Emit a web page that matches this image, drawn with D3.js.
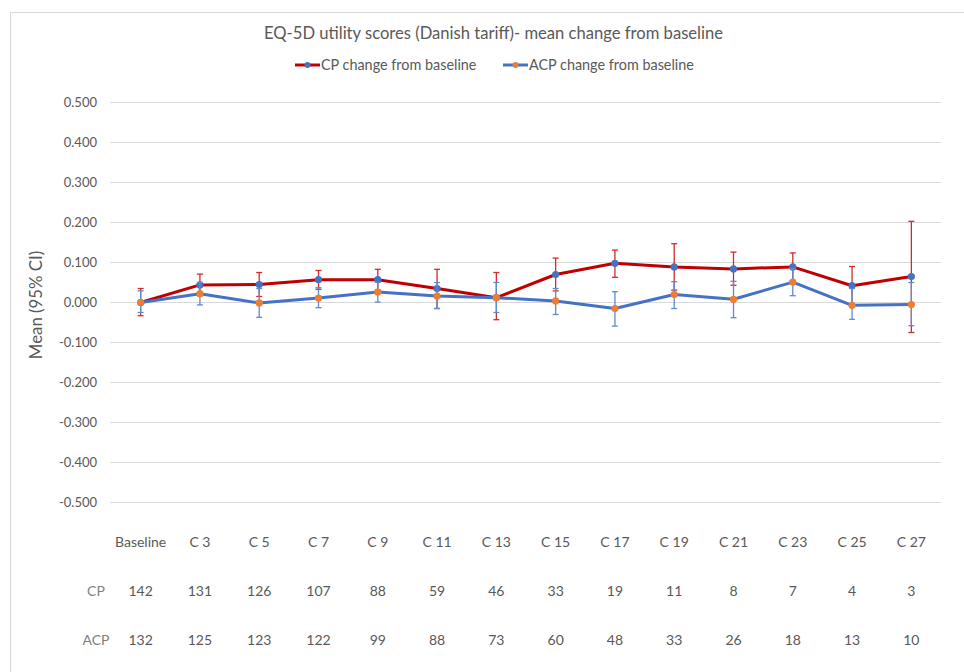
<!DOCTYPE html>
<html>
<head>
<meta charset="utf-8">
<script src="https://cdn.jsdelivr.net/npm/d3@7"></script>
<style>
  html, body { margin: 0; padding: 0; background: #fff; }
  svg { display: block; font-family: Lato, "Open Sans", sans-serif; }
</style>
</head>
<body>
<svg id="chart" width="964" height="672"></svg>
<script>
// Visits, in order
const categories = ["Baseline", "C 3", "C 5", "C 7", "C 9", "C 11", "C 13", "C 15", "C 17", "C 19", "C 21", "C 23", "C 25", "C 27"];

// CP: mean change from baseline and 95% CI
const cpMean  = [0.000, 0.044, 0.045, 0.057, 0.057, 0.035, 0.012, 0.070, 0.098, 0.089, 0.084, 0.089, 0.042, 0.065];
const cpLower = [-0.033, 0.017, 0.015, 0.033, 0.031, -0.015, -0.043, 0.029, 0.063, 0.031, 0.043, 0.054, -0.006, -0.075];
const cpUpper = [0.035, 0.071, 0.075, 0.080, 0.083, 0.083, 0.075, 0.111, 0.131, 0.147, 0.126, 0.124, 0.090, 0.203];

// ACP: mean change from baseline and 95% CI
const acpMean  = [0.000, 0.022, -0.001, 0.011, 0.026, 0.016, 0.012, 0.004, -0.015, 0.020, 0.008, 0.051, -0.007, -0.005];
const acpLower = [-0.025, -0.006, -0.037, -0.013, 0.001, -0.015, -0.025, -0.030, -0.059, -0.015, -0.038, 0.017, -0.042, -0.058];
const acpUpper = [0.029, 0.050, 0.035, 0.037, 0.051, 0.050, 0.050, 0.035, 0.027, 0.052, 0.053, 0.085, 0.035, 0.050];

// Number of patients at each visit
const cpN  = [142, 131, 126, 107, 88, 59, 46, 33, 19, 11, 8, 7, 4, 3];
const acpN = [132, 125, 123, 122, 99, 88, 73, 60, 48, 33, 26, 18, 13, 10];

// Value axis ticks
const yTicks = [0.5, 0.4, 0.3, 0.2, 0.1, 0, -0.1, -0.2, -0.3, -0.4, -0.5];

const titleText = "EQ-5D utility scores (Danish tariff)- mean change from baseline";
const yTitle = "Mean (95% CI)";

const series = [
  { name: "CP change from baseline", rowLabel: "CP", mean: cpMean, lower: cpLower, upper: cpUpper, n: cpN,
    line: "#c00000", marker: "#4472c4", err: "#d42a2a" },
  { name: "ACP change from baseline", rowLabel: "ACP", mean: acpMean, lower: acpLower, upper: acpUpper, n: acpN,
    line: "#4472c4", marker: "#ed7d31", err: "#5f8ad0" }
];

const textColor = "#595959";
const gridColor = "#d9d9d9";

const svg = d3.select("#chart");
svg.append("rect").attr("width", 964).attr("height", 672).attr("fill", "#fff");

// Chart area frame (left and top edges)
svg.append("path")
  .attr("d", "M10.5,672 V12.5 H964")
  .attr("fill", "none")
  .attr("stroke", gridColor)
  .attr("stroke-width", 1);

const x = d3.scaleBand().domain(categories).range([111, 941]).paddingInner(0).paddingOuter(0);
const cx = c => x(c) + x.bandwidth() / 2;
const y = d3.scaleLinear().domain([-0.5, 0.5]).range([502.5, 102.5]);

const fmt = d3.formatLocale({ decimal: ".", thousands: ",", grouping: [3], currency: ["", ""], minus: "-" }).format(".3f");

// Gridlines and value labels
const yAxis = d3.axisLeft(y).tickValues(yTicks).tickFormat(fmt).tickSize(0).tickPadding(0);
const yG = svg.append("g").attr("transform", "translate(97,0)").call(yAxis);
yG.select(".domain").remove();
yG.selectAll("text").attr("fill", textColor).attr("font-size", 13).attr("font-family", "Lato, sans-serif");

svg.append("g").selectAll("line").data(yTicks).join("line")
  .attr("x1", 110).attr("x2", 941)
  .attr("y1", d => y(d)).attr("y2", d => y(d))
  .attr("stroke", gridColor).attr("stroke-width", 1);

// Title
svg.append("text")
  .attr("x", 493.5).attr("y", 33).attr("dy", "0.35em")
  .attr("text-anchor", "middle").attr("font-size", 16.6).attr("fill", textColor)
  .text(titleText);

// Y axis title
svg.append("text")
  .attr("transform", "translate(36,305) rotate(-90)")
  .attr("dy", "0.35em").attr("text-anchor", "middle")
  .attr("font-size", 16.8).attr("fill", textColor)
  .text(yTitle);

// Legend
const legendX = [295, 503];
series.forEach((s, i) => {
  const g = svg.append("g").attr("transform", `translate(${legendX[i]},65)`);
  g.append("line").attr("x1", 0).attr("x2", 25).attr("y1", 0).attr("y2", 0)
    .attr("stroke", s.line).attr("stroke-width", 3);
  g.append("circle").attr("cx", 12.5).attr("cy", 0).attr("r", 3).attr("fill", s.marker);
  g.append("text").attr("x", 26).attr("dy", "0.35em").attr("font-size", 14.4)
    .attr("fill", textColor).text(s.name);
});

// Series: line, error bars, markers
const lineGen = d3.line().x((d, i) => cx(categories[i])).y(d => y(d));
const capHalf = 3;
series.forEach(s => {
  const g = svg.append("g");
  g.append("path").datum(s.mean)
    .attr("d", lineGen).attr("fill", "none")
    .attr("stroke", s.line).attr("stroke-width", 3).attr("stroke-linejoin", "round");

  const eb = g.append("g").selectAll("g").data(categories).join("g")
    .attr("stroke", s.err).attr("stroke-width", 1.3);
  eb.append("line")
    .attr("x1", c => cx(c)).attr("x2", c => cx(c))
    .attr("y1", (c, i) => y(s.lower[i])).attr("y2", (c, i) => y(s.upper[i]));
  eb.append("line")
    .attr("x1", c => cx(c) - capHalf).attr("x2", c => cx(c) + capHalf)
    .attr("y1", (c, i) => y(s.upper[i])).attr("y2", (c, i) => y(s.upper[i]));
  eb.append("line")
    .attr("x1", c => cx(c) - capHalf).attr("x2", c => cx(c) + capHalf)
    .attr("y1", (c, i) => y(s.lower[i])).attr("y2", (c, i) => y(s.lower[i]));

  g.append("g").selectAll("circle").data(s.mean).join("circle")
    .attr("cx", (d, i) => cx(categories[i])).attr("cy", d => y(d))
    .attr("r", 3.6).attr("fill", s.marker);
});

// Visit labels and patient counts below the plot
svg.append("g").selectAll("text").data(categories).join("text")
  .attr("x", c => cx(c)).attr("y", 542).attr("dy", "0.35em")
  .attr("text-anchor", "middle").attr("font-size", 14).attr("fill", textColor)
  .text(c => c);

const rowY = [591.5, 640];
series.forEach((s, r) => {
  svg.append("text").attr("x", 96).attr("y", rowY[r]).attr("dy", "0.35em")
    .attr("text-anchor", "middle").attr("font-size", 14).attr("fill", "#7f7f7f")
    .text(s.rowLabel);
  svg.append("g").selectAll("text").data(s.n).join("text")
    .attr("x", (d, i) => cx(categories[i])).attr("y", rowY[r]).attr("dy", "0.35em")
    .attr("text-anchor", "middle").attr("font-size", 14).attr("fill", textColor)
    .text(d => d);
});
</script>
</body>
</html>
